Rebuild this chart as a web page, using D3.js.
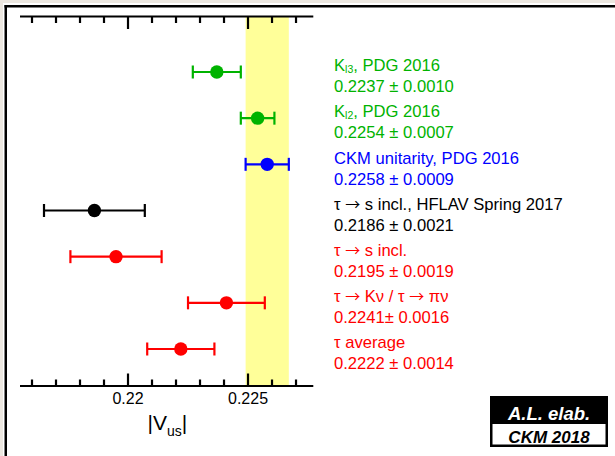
<!DOCTYPE html>
<html>
<head>
<meta charset="utf-8">
<script src="https://cdn.jsdelivr.net/npm/d3@7"></script>
<style>
  html, body { margin: 0; padding: 0; background: #ece7e0; }
  svg { display: block; }
  text { font-family: "Liberation Sans", Arial, Helvetica, sans-serif; }
</style>
</head>
<body>
<svg id="chart" width="615" height="456"></svg>
<script>
// ---- data ----
const names = [
  ["K", "l3", ", PDG 2016"],
  ["K", "l2", ", PDG 2016"],
  ["CKM unitarity, PDG 2016", "", ""],
  ["τ → s incl., HFLAV Spring 2017", "", ""],
  ["τ → s incl.", "", ""],
  ["τ → Kν / τ → πν", "", ""],
  ["τ average", "", ""]
];
const values = [0.2237, 0.2254, 0.2258, 0.2186, 0.2195, 0.2241, 0.2222];
const errors = [0.0010, 0.0007, 0.0009, 0.0021, 0.0019, 0.0016, 0.0014];
const valueLabels = [
  "0.2237 ± 0.0010",
  "0.2254 ± 0.0007",
  "0.2258 ± 0.0009",
  "0.2186 ± 0.0021",
  "0.2195 ± 0.0019",
  "0.2241± 0.0016",
  "0.2222 ± 0.0014"
];
const groups = ["kaon", "kaon", "ckm", "hflav", "tau", "tau", "tau"];
const bandIndex = 2;
const xDomain = [0.2155, 0.22772];
const minorTicks = [0.216, 0.217, 0.218, 0.219, 0.221, 0.222, 0.223, 0.224, 0.226, 0.227];
const majorTicks = [0.22, 0.225];
const majorTickLabels = ["0.22", "0.225"];
const brandTop = "A.L. elab.";
const brandBottom = "CKM 2018";

// ---- drawing ----
const svg = d3.select("#chart");
const W = 615, H = 456;

const color = d3.scaleOrdinal()
  .domain(["kaon", "ckm", "hflav", "tau"])
  .range(["#00b300", "#0000ff", "#000000", "#ff0000"]);

// frame
svg.append("rect").attr("x", 0).attr("y", 0).attr("width", W).attr("height", H).attr("fill", "#ece7e0");
svg.append("rect").attr("x", 3).attr("y", 3).attr("width", W).attr("height", H).attr("fill", "#ffffff");
svg.append("rect").attr("x", 4.5).attr("y", 5).attr("width", W).attr("height", 2.5).attr("fill", "#000");
svg.append("rect").attr("x", 4.5).attr("y", 5).attr("width", 2.5).attr("height", H).attr("fill", "#000");

const axTop = 16.5, axBot = 386;
const x = d3.scaleLinear().domain(xDomain).range([20, 313.3]);
const idx = values.map((d, i) => i);
const y = d3.scalePoint().domain(idx).range([72, 349]);

// yellow band
const bc = values[bandIndex], be = errors[bandIndex];
svg.append("rect")
  .attr("x", x(bc - be)).attr("y", axTop)
  .attr("width", x(bc + be) - x(bc - be)).attr("height", axBot - axTop)
  .attr("fill", "#ffff99");

// axes
function drawAxis(ypos, orient) {
  const g = svg.append("g").attr("transform", `translate(0,${ypos})`);
  const dir = orient === "top" ? 1 : -1;
  const axMinor = (orient === "top" ? d3.axisTop(x) : d3.axisBottom(x))
    .tickValues(minorTicks).tickSize(0).tickFormat("");
  g.append("g").call(axMinor).call(s => s.select(".domain").remove());
  g.selectAll(".minor").data(minorTicks).enter().append("line")
    .attr("x1", d => x(d)).attr("x2", d => x(d))
    .attr("y1", 0).attr("y2", dir * 6.5)
    .attr("stroke", "#000").attr("stroke-width", 2.2);
  g.selectAll(".major").data(majorTicks).enter().append("line")
    .attr("x1", d => x(d)).attr("x2", d => x(d))
    .attr("y1", 0).attr("y2", dir * 12.5)
    .attr("stroke", "#000").attr("stroke-width", 2.2);
  g.append("line")
    .attr("x1", x.range()[0]).attr("x2", x.range()[1])
    .attr("y1", 0).attr("y2", 0)
    .attr("stroke", "#000").attr("stroke-width", 2.2);
  return g;
}
drawAxis(axTop, "top");
drawAxis(axBot, "bottom");

// tick labels
svg.selectAll(".tlab").data(majorTicks).enter().append("text")
  .attr("x", d => x(d)).attr("y", 404.3)
  .attr("text-anchor", "middle").attr("font-size", 16).attr("fill", "#000")
  .text((d, i) => majorTickLabels[i]);

// axis title |V_us|
const title = svg.append("text").attr("x", 147.5).attr("y", 429.5)
  .attr("font-size", 21).attr("fill", "#000");
title.append("tspan").text("|V");
title.append("tspan").attr("font-size", 14).attr("dy", 6).text("us");
title.append("tspan").attr("dy", -6).text("|");

// error bars
const capH = 6.5;
const eb = svg.append("g");
idx.forEach(i => {
  const c = color(groups[i]);
  const yy = y(i);
  eb.append("line")
    .attr("x1", x(values[i] - errors[i])).attr("x2", x(values[i] + errors[i]))
    .attr("y1", yy).attr("y2", yy).attr("stroke", c).attr("stroke-width", 2.2);
  [values[i] - errors[i], values[i] + errors[i]].forEach(v => {
    eb.append("line")
      .attr("x1", x(v)).attr("x2", x(v))
      .attr("y1", yy - capH).attr("y2", yy + capH)
      .attr("stroke", c).attr("stroke-width", 2.2);
  });
});

// points
svg.selectAll(".pt").data(idx).enter().append("circle")
  .attr("cx", i => x(values[i])).attr("cy", i => y(i)).attr("r", 6.7)
  .attr("fill", i => color(groups[i]));

// write text where arrows use a font with a long arrow glyph
function addRich(textSel, str) {
  str.split(/(→)/).forEach(part => {
    if (!part) return;
    const ts = textSel.append("tspan").text(part);
    if (part === "→") ts.attr("font-family", "Noto Sans CJK SC").attr("font-size", 15);
  });
}

// labels
const FS = 16.6;
const lab = svg.append("g");
idx.forEach(i => {
  const c = color(groups[i]);
  const t = lab.append("text").attr("x", 334).attr("y", y(i) - 0.8)
    .attr("font-size", FS).attr("fill", c);
  const [a, sub, b] = names[i];
  addRich(t, a);
  if (sub) {
    t.append("tspan").attr("font-size", 10.5).attr("dy", 2).text(sub);
    t.append("tspan").attr("dy", -2).text(b);
  }
  lab.append("text").attr("x", 334).attr("y", y(i) + 20.3)
    .attr("font-size", FS).attr("fill", c).text(valueLabels[i]);
});

// branding box
const bx = 490, by = 396, bw = 118, bh = 51;
svg.append("rect").attr("x", bx).attr("y", by).attr("width", bw).attr("height", bh).attr("fill", "#000");
svg.append("rect").attr("x", bx + 2.5).attr("y", by + 28).attr("width", bw - 5).attr("height", bh - 30.5).attr("fill", "#fff");
svg.append("text").attr("x", bx + bw / 2).attr("y", by + 24)
  .attr("text-anchor", "middle").attr("font-size", 18.5).attr("font-weight", "bold")
  .attr("font-style", "italic").attr("fill", "#fff").text(brandTop);
svg.append("text").attr("x", bx + bw / 2).attr("y", by + 46.5)
  .attr("text-anchor", "middle").attr("font-size", 17).attr("font-weight", "bold")
  .attr("font-style", "italic").attr("fill", "#000").text(brandBottom);
</script>
</body>
</html>
